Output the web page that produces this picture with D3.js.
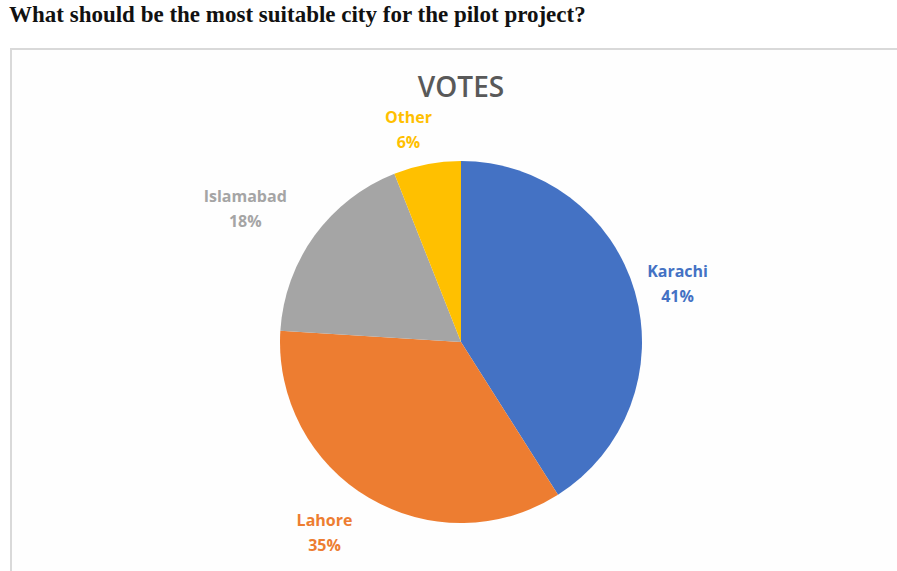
<!DOCTYPE html>
<html lang="en">
<head>
  <meta charset="UTF-8">
  <title>Votes pie</title>
  <script src="https://d3js.org/d3.v7.min.js"></script>
  <style>
    body {
      margin: 0;
      background: #fff;
      overflow: hidden;
    }
    #heading {
      position: absolute;
      left: 9px;
      top: 2px;
      margin: 0;
      font-family: "Liberation Serif", "Times New Roman", serif;
      font-weight: bold;
      font-size: 23px;
      color: #111;
    }
    svg {
      position: absolute;
      left: 0;
      top: 0;
    }
  </style>
</head>
<body>
  <h1 id="heading">What should be the most suitable city for the pilot project?</h1>
  <svg width="897" height="571"></svg>

  <script>
    const cities = ['Karachi', 'Lahore', 'Islamabad', 'Other'];
    const votes = [41, 35, 18, 6];
    const colours = ['#4472C4', '#ED7D31', '#A5A5A5', '#FFC000'];

    const svg = d3.select('svg');
    const cx = 461, cy = 342, radius = 181;

    // chart frame
    svg.append('rect')
      .attr('x', 11)
      .attr('y', 49)
      .attr('width', 900)
      .attr('height', 540)
      .attr('fill', '#fefefe')
      .attr('stroke', '#d9d9d9')
      .attr('stroke-width', 2);

    svg.append('text')
      .attr('x', cx)
      .attr('y', 97)
      .attr('text-anchor', 'middle')
      .style('font-family', '"Open Sans", sans-serif')
      .style('font-size', '28px')
      .style('font-weight', 600)
      .attr('fill', '#595959')
      .text('VOTES');

    const data = cities.map((c, i) => ({ city: c, value: votes[i], colour: colours[i] }));

    const pie = d3.pie().sort(null).value(d => d.value);
    const arc = d3.arc().innerRadius(0).outerRadius(radius);
    const arcs = pie(data);

    const g = svg.append('g').attr('transform', `translate(${cx},${cy})`);

    g.selectAll('path')
      .data(arcs)
      .enter()
      .append('path')
      .attr('d', arc)
      .attr('fill', d => d.data.colour);

    // labels sit outside the slice, pushed out by half their box
    const gap = 12;
    const nudge = { Karachi: [2, 2], Lahore: [-24, 4], Islamabad: [-26, -6], Other: [-12, 0] };

    const labels = g.selectAll('.label')
      .data(arcs)
      .enter()
      .append('text')
      .attr('class', 'label')
      .attr('text-anchor', 'middle')
      .style('font-family', '"Open Sans", sans-serif')
      .style('font-size', '16px')
      .style('font-weight', 'bold')
      .attr('fill', d => d.data.colour);

    labels.append('tspan').attr('x', 0).attr('dy', 0).text(d => d.data.city);
    labels.append('tspan').attr('x', 0).attr('dy', 25).text(d => d.data.value + '%');

    labels.each(function(d) {
      const a = (d.startAngle + d.endAngle) / 2;
      const box = this.getBBox();
      const r = radius + gap;
      const n = nudge[d.data.city];
      const x = r * Math.sin(a) + Math.sin(a) * box.width / 2 + n[0];
      const y = -r * Math.cos(a) - Math.cos(a) * box.height / 2 + n[1];
      // box centre -> first baseline
      const top = y - box.height / 2 - box.y;
      d3.select(this).attr('transform', `translate(${x},${top})`);
    });
  </script>
</body>
</html>
